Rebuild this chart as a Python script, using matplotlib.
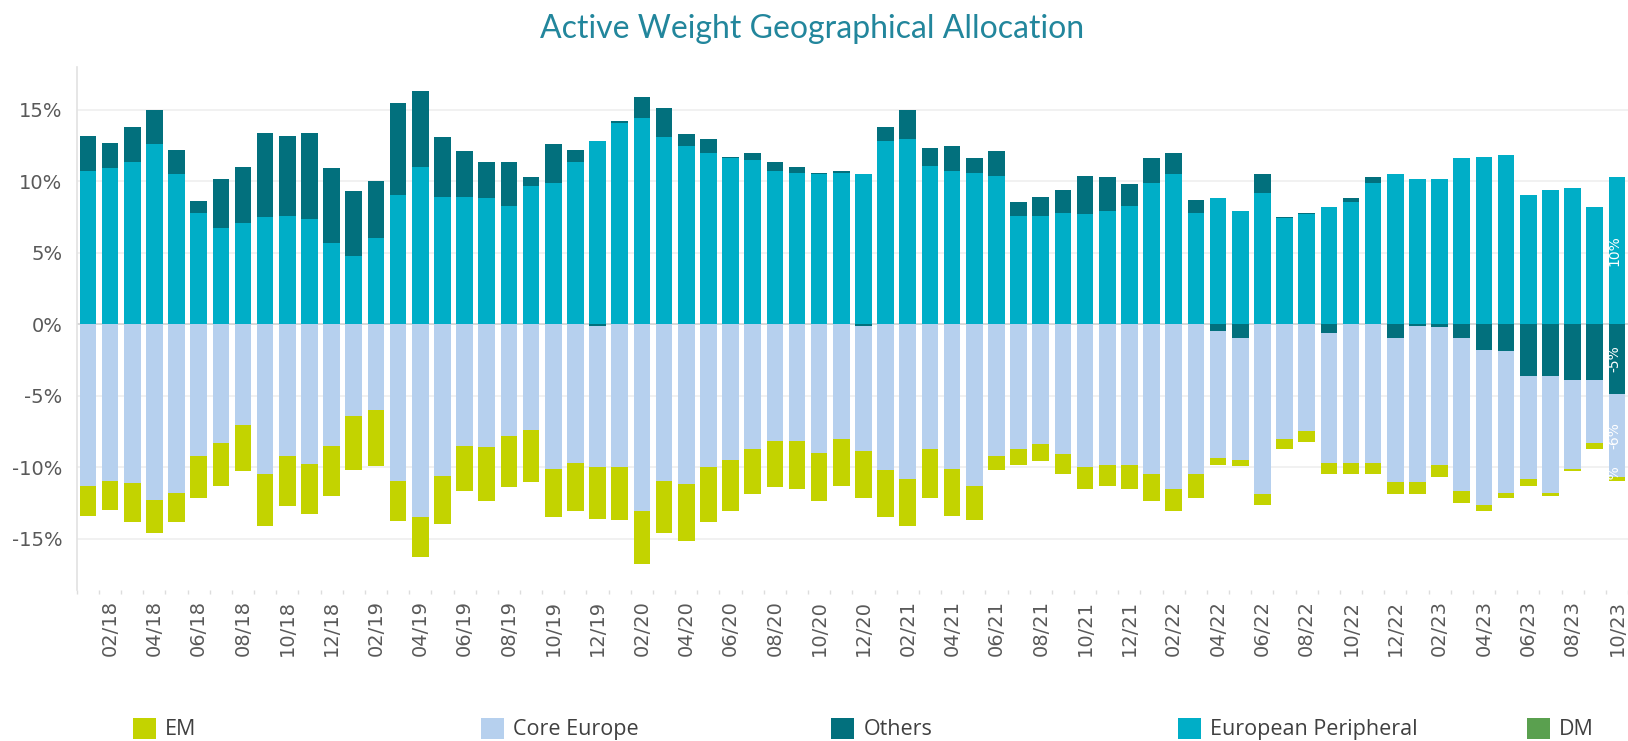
import matplotlib
matplotlib.use("Agg")
import matplotlib.pyplot as plt
from matplotlib.patches import Patch
import numpy as np
import pandas as pd

# ---------------- data ----------------
months = pd.date_range("2018-01-01", periods=70, freq="MS").strftime("%m/%y").tolist()

european_peripheral = [
    10.75, 10.9, 11.35, 12.6, 10.5, 7.8, 6.7, 7.1, 7.5, 7.6,
    7.35, 5.7, 4.8, 6.0, 9.05, 11.0, 8.9, 8.9, 8.8, 8.3,
    9.65, 9.9, 11.35, 12.8, 14.05, 14.4, 13.1, 12.45, 12.0, 11.6,
    11.5, 10.75, 10.6, 10.5, 10.6, 10.5, 12.8, 12.95, 11.1, 10.75,
    10.6, 10.4, 7.6, 7.6, 7.8, 7.7, 7.95, 8.3, 9.9, 10.5,
    7.8, 8.8, 7.95, 9.2, 7.45, 7.7, 8.2, 8.55, 9.9, 10.5,
    10.15, 10.15, 11.6, 11.7, 11.85, 9.05, 9.4, 9.5, 8.2, 10.3,
]
others = [
    2.45, 1.8, 2.45, 2.4, 1.7, 0.85, 3.45, 3.9, 5.9, 5.6,
    6.05, 5.2, 4.5, 4.0, 6.45, 5.35, 4.2, 3.2, 2.55, 3.05,
    0.65, 2.7, 0.85, -0.1, 0.2, 1.5, 2.05, 0.85, 0.95, 0.1,
    0.5, 0.6, 0.4, 0.1, 0.15, -0.1, 1.0, 2.05, 1.2, 1.7,
    1.0, 1.7, 0.95, 1.3, 1.6, 2.7, 2.35, 1.5, 1.7, 1.5,
    0.9, -0.5, -0.95, 1.3, 0.05, 0.1, -0.6, 0.25, 0.4, -0.95,
    -0.1, -0.2, -0.95, -1.8, -1.9, -3.6, -3.6, -3.9, -3.9, -4.85,
]
core_europe = [
    -11.3, -11.0, -11.1, -12.3, -11.8, -9.25, -8.3, -7.05, -10.5, -9.25,
    -9.75, -8.5, -6.45, -6.0, -11.0, -13.5, -10.6, -8.5, -8.6, -7.8,
    -7.4, -10.1, -9.7, -9.9, -10.0, -13.1, -10.95, -11.2, -10.0, -9.5,
    -8.75, -8.15, -8.15, -9.0, -8.0, -8.8, -10.2, -10.8, -8.75, -10.1,
    -11.3, -9.25, -8.75, -8.4, -9.1, -10.0, -9.85, -9.85, -10.45, -11.55,
    -10.45, -8.85, -8.55, -11.9, -8.0, -7.5, -9.1, -9.7, -9.7, -10.1,
    -10.95, -9.65, -10.75, -10.85, -9.9, -7.2, -8.2, -6.2, -4.4, -5.85,
]
em = [
    -2.1, -2.0, -2.75, -2.3, -2.05, -2.9, -3.0, -3.25, -3.6, -3.5,
    -3.5, -3.5, -3.75, -3.95, -2.75, -2.8, -3.4, -3.2, -3.8, -3.6,
    -3.65, -3.4, -3.4, -3.6, -3.7, -3.7, -3.65, -4.0, -3.85, -3.6,
    -3.15, -3.25, -3.35, -3.4, -3.3, -3.25, -3.3, -3.3, -3.4, -3.3,
    -2.4, -0.95, -1.1, -1.2, -1.35, -1.5, -1.45, -1.65, -1.95, -1.55,
    -1.7, -0.5, -0.45, -0.75, -0.75, -0.75, -0.75, -0.75, -0.75, -0.85,
    -0.85, -0.85, -0.8, -0.45, -0.35, -0.5, -0.2, -0.2, -0.45, -0.25,
]

series_names = ["EM", "Core Europe", "Others", "European Peripheral", "DM"]
series_colors = ["#C3D300", "#B6D0EE", "#02707D", "#00AEC7", "#5AA04F"]

# ---------------- figure ----------------
W, H = 1628, 741
fig = plt.figure(figsize=(W / 100, H / 100), dpi=100)
ax_left = 76.8
ax = fig.add_axes([ax_left / W, 151 / H, 1 - ax_left / W, 523 / H])

x = np.arange(len(months))
bw = 0.75
per = np.array(european_peripheral)
oth = np.array(others)
cor = np.array(core_europe)
emv = np.array(em)
oth_pos = np.where(oth > 0, oth, 0.0)
oth_neg = np.where(oth < 0, oth, 0.0)

c_em, c_core, c_oth, c_per, c_dm = series_colors
ax.bar(x, per, bw, color=c_per, zorder=2)
ax.bar(x, oth_pos, bw, bottom=per, color=c_oth, zorder=2)
ax.bar(x, oth_neg, bw, color=c_oth, zorder=2)
ax.bar(x, cor, bw, bottom=oth_neg, color=c_core, zorder=2)
ax.bar(x, emv, bw, bottom=oth_neg + cor, color=c_em, zorder=2)

# data labels on the last bar (clipped by the figure edge)
i = len(months) - 1
lab_kw = dict(rotation=90, color="white", ha="center", va="center",
              fontsize=10, zorder=4, clip_on=True)
ax.text(x[i] - 0.1, per[i] / 2, f"{per[i]:.0f}%", **lab_kw)
ax.text(x[i] - 0.1, oth_neg[i] / 2, f"{oth[i]:.0f}%", **lab_kw)
ax.text(x[i] - 0.1, oth_neg[i] + cor[i] / 2, f"{cor[i]:.0f}%", **lab_kw)
ax.text(x[i] - 0.1, oth_neg[i] + cor[i] + emv[i] / 2, f"{emv[i]:.0f}%", **lab_kw)

# axes styling
ax.set_xlim(-0.42, -0.42 + (W - ax_left) / 22.33)
ax.set_ylim(-18.6, 18.0)
ax.set_yticks(np.arange(-15, 16, 5))
ax.set_yticklabels([f"{v}%" for v in range(-15, 16, 5)])
ax.yaxis.grid(True, color="#EFEFEF", lw=1.2, zorder=0)
ax.axhline(0, color="#D9D9D9", lw=1.4, zorder=1)
ax.set_axisbelow(True)
for s in ["top", "right", "bottom"]:
    ax.spines[s].set_visible(False)
ax.spines["left"].set_color("#E2E2E2")
ax.spines["left"].set_linewidth(1.2)

ax.set_xticks(x[1::2])
ax.set_xticklabels(months[1::2], rotation=90)
ax.set_xticks(np.arange(-0.5, len(months), 1), minor=True)
ax.tick_params(axis="x", which="major", length=0, pad=7, labelsize=14, labelcolor="#595959")
ax.tick_params(axis="x", which="minor", length=3, width=1, color="#DDDDDD")
ax.tick_params(axis="y", length=0, pad=10.5, labelsize=14, labelcolor="#595959")

# title
fig.text(812 / W, 1 - 29 / H, "Active Weight Geographical Allocation",
         ha="center", va="center", fontsize=23, color="#22869C", family="Lato")

# legend: five evenly spaced entries
leg_x = [133, 481, 831, 1178, 1527]
for name, col, lx in zip(series_names, series_colors, leg_x):
    lg = fig.legend(handles=[Patch(facecolor=col, edgecolor="none")], labels=[name],
                    loc="center left", bbox_to_anchor=(lx / W, 1 - 729 / H),
                    frameon=False, borderpad=0, borderaxespad=0,
                    handlelength=1.08, handleheight=1.13, handletextpad=0.42,
                    prop={"family": "Open Sans", "size": 15.5})
    for t in lg.get_texts():
        t.set_color("#404040")

fig.savefig("out.png", dpi=100)
